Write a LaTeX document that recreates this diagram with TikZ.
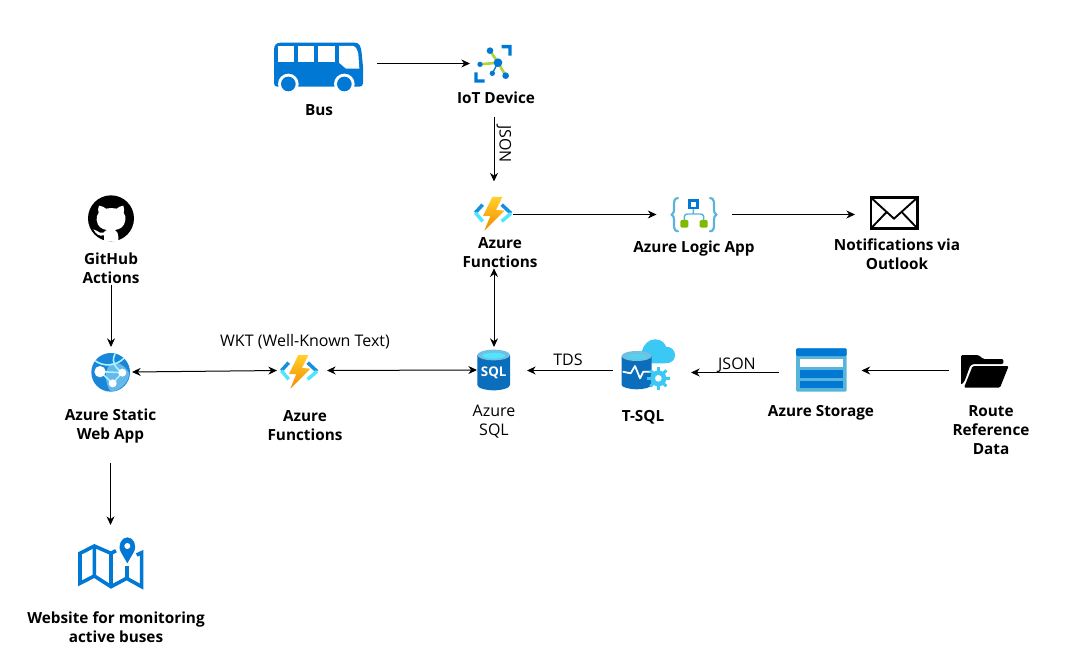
\documentclass[tikz,border=0pt]{standalone}
\usepackage{fontspec}
\setmainfont{Open Sans}
\usetikzlibrary{arrows.meta,calc}
\definecolor{azblue}{HTML}{0078D4}
\definecolor{azmid}{HTML}{1490DF}
\definecolor{azlight}{HTML}{50E6FF}
\definecolor{azsky}{HTML}{59B4D9}
\definecolor{azcloud}{HTML}{3CC8F4}
\definecolor{azgreen}{HTML}{7FBA00}
\definecolor{azlime}{HTML}{B4D334}
\definecolor{azsql}{HTML}{0A6EBD}
\definecolor{boltA}{HTML}{FFD02B}
\definecolor{boltB}{HTML}{F58A00}
\tikzset{
  zoomed/.style 2 args={shift={(#1,#2)},x=0.25pt,y=-0.25pt},
  iconbox/.style 2 args={inner sep=0pt,outer sep=0pt,minimum width=#1*0.75pt,minimum height=#2*0.75pt},
  boldlabel/.style={inner sep=0pt,align=center,font=\fontsize{11.5}{14.25}\selectfont\bfseries},
  pluslabel/.style={inner sep=0pt,align=center,font=\fontsize{12}{14.25}\selectfont},
  conn/.style={draw=black,line width=0.75pt,-{Stealth[length=6.5pt,width=6pt]}},
  biconn/.style={draw=black,line width=0.75pt,{Stealth[length=6.5pt,width=6pt]}-{Stealth[length=6.5pt,width=6pt]}},
  gapa/.style={shorten <=#1*0.75pt},
  gapb/.style={shorten >=#1*0.75pt}
}
\newcommand{\funcicon}[2]{%
  \begin{scope}[zoomed={#1}{#2}]
    \shade[top color=boltA,bottom color=boltB] (82,21)--(112,21)--(93,60)--(118,62)--(58,122)--(76,78)--(54,78)--cycle;
    \draw[azmid,line width=2.6pt,line join=miter] (53,44)--(31,68);
    \draw[azlight,line width=2.6pt] (31,68)--(53,94);
    \draw[azmid,line width=2.6pt] (110,44)--(138,70);
    \draw[azlight,line width=2.6pt] (138,70)--(110,94);
  \end{scope}}
\begin{document}
\begin{tikzpicture}[x=0.75pt,y=-0.75pt]
\useasboundingbox (0,0) rectangle (1066,666);
\fill[white] (0,0) rectangle (1066,666);

% ---- anchor boxes of the icons
\node[iconbox={89}{51}] (bus) at (318.5,67.5) {};
\node[iconbox={48}{40}] (iot) at (494,63.5) {};
\node[iconbox={38}{36}] (func1) at (494,214.5) {};
\node[iconbox={46}{36}] (logic) at (694.5,214.5) {};
\node[iconbox={48}{36}] (mail) at (894,214.5) {};
\node[iconbox={48}{46}] (github) at (111,218) {};
\node[iconbox={42}{50}] (swa) at (111,372) {};
\node[iconbox={42}{40}] (func2) at (300,370.5) {};
\node[iconbox={34}{46}] (sql) at (494,370) {};
\node[iconbox={50}{50}] (tsql) at (648,370.5) {};
\node[iconbox={52}{44}] (storage) at (821.5,372.5) {};
\node[iconbox={48}{40}] (route) at (985,370.5) {};
\node[iconbox={66}{54}] (map) at (110.5,563) {};

% ---- bus
\begin{scope}[zoomed={260}{30}]
  \fill[azblue] (42,60) .. controls (42,44) and (50,38) .. (62,38) -- (285,38)
     .. controls (298,38) and (303,48) .. (305,70) -- (309,110) -- (309,160)
     .. controls (309,166) and (305,170) .. (298,170) -- (52,170)
     .. controls (46,170) and (42,166) .. (42,160) -- cycle;
  \fill[white] (55,48) rectangle (102,97);
  \fill[white] (115,48) rectangle (163,97);
  \fill[white] (175,48) rectangle (225,97);
  \fill[white] (237,48) -- (280,48) .. controls (288,50) and (292,60) .. (295,72) -- (298,116) -- (258,116) -- (237,98) -- cycle;
  \fill[white] (85,162) circle[radius=31];
  \fill[white] (253,162) circle[radius=31];
  \fill[azblue] (85,162) circle[radius=22];
  \fill[azblue] (253,162) circle[radius=22];
\end{scope}

% ---- IoT device
\begin{scope}[zoomed={260}{30}]
  \draw[azlime,line width=2pt] (690,62)--(714,98) (660,103)--(714,98) (737,137)--(714,98);
  \draw[azblue,line width=1pt] (697,130)--(714,98);
  \fill[azblue] (725,45)--(755,45)--(755,77)--(745,77)--(745,55)--(725,55)--cycle;
  \fill[azblue] (643,127)--(653,127)--(653,148)--(674,148)--(674,158)--(643,158)--cycle;
  \fill[azblue] (714,98) circle[radius=13];
  \fill[azblue] (690,62) circle[radius=10];
  \fill[azblue] (660,103) circle[radius=8];
  \fill[azblue] (697,130) circle[radius=8];
  \fill[azblue] (737,137) circle[radius=10];
\end{scope}

% ---- functions
\funcicon{465}{190}
\funcicon{271}{348}

% ---- logic app
\begin{scope}[zoomed={460}{190}]
  \draw[azsky,line width=1.6pt,line cap=round] (654,24) .. controls (640,24) and (642,40) .. (642,55) .. controls (642,66) and (640,72) .. (635,74) .. controls (640,76) and (642,82) .. (642,93) .. controls (642,108) and (640,124) .. (654,124);
  \draw[azsky,line width=1.6pt,line cap=round] (750,24) .. controls (764,24) and (762,40) .. (762,55) .. controls (762,66) and (764,72) .. (769,74) .. controls (764,76) and (762,82) .. (762,93) .. controls (762,108) and (764,124) .. (750,124);
  \draw[azsky,line width=1.1pt] (700,55)--(700,72) (673,92)--(673,80) .. controls (673,74) and (678,72) .. (683,72) -- (720,72) .. controls (726,72) and (731,74) .. (731,80) -- (731,92);
  \draw[azblue,line width=2pt,fill=white] (689,32) rectangle (712,54);
  \fill[azgreen,rounded corners=1pt] (661,90) rectangle (685,113);
  \fill[azgreen,rounded corners=1pt] (719,90) rectangle (743,113);
\end{scope}

% ---- mail
\begin{scope}[zoomed={460}{190}]
  \draw[black,line width=1.9pt,line join=miter] (1233,23) rectangle (1372,115);
  \draw[black,line width=1.4pt] (1233,23)--(1302,86)--(1372,23);
  \draw[black,line width=1.4pt] (1233,115)--(1280,66) (1372,115)--(1325,66);
\end{scope}

% ---- github
\begin{scope}[zoomed={60}{190}]
  \fill[black] (153,85) circle[radius=69];
  \fill[white] (117,47) .. controls (125,47) and (133,52) .. (138,56) .. controls (148,54) and (160,54) .. (170,56)
     .. controls (176,52) and (182,47) .. (190,47) .. controls (193,55) and (193,62) .. (191,68)
     .. controls (196,75) and (197,82) .. (196,90) .. controls (194,110) and (180,118) .. (165,120)
     .. controls (172,124) and (175,132) .. (175,140) -- (175,152) .. controls (160,155) and (146,155) .. (132,152)
     -- (132,136) .. controls (116,140) and (108,132) .. (100,118) .. controls (108,118) and (112,126) .. (120,128) .. controls (125,129) and (130,128) .. (132,127)
     .. controls (133,124) and (136,122) .. (141,120) .. controls (125,118) and (112,110) .. (110,90)
     .. controls (109,82) and (111,75) .. (116,68) .. controls (113,62) and (114,54) .. (117,47) -- cycle;
\end{scope}

% ---- static web app
\begin{scope}[zoomed={60}{190}]
  \fill[azblue!90!white] (152,547) circle[radius=58];
  \fill[azmid!65!white] (150,522) .. controls (170,512) and (195,525) .. (208,550) .. controls (205,580) and (180,602) .. (152,605) .. controls (135,580) and (132,545) .. (150,522) -- cycle;
  \draw[azlight!50!white,line width=1.2pt] (105,512) .. controls (130,530) and (165,530) .. (192,505);
  \draw[azlight!50!white,line width=1.2pt] (165,492) .. controls (150,520) and (175,540) .. (187,548);
  \draw[azlight!50!white,line width=1.2pt] (120,545) -- (158,580) (120,545) -- (187,548) (158,580) -- (187,548);
  \fill[white] (120,545) circle[radius=17];
  \fill[white] (187,548) circle[radius=12];
  \fill[white] (158,580) circle[radius=12];
\end{scope}

% ---- SQL
\begin{scope}[zoomed={270}{335}]
  \fill[azsql] (622,60) -- (622,150) .. controls (622,160) and (650,166) .. (671,166) .. controls (692,166) and (720,160) .. (720,150) -- (720,60) -- cycle;
  \fill[azsky!85!white] (671,60) ellipse[x radius=49,y radius=16];
  \fill[azlight] (671,62) ellipse[x radius=34,y radius=9];
  \node[inner sep=0pt,text=white,font=\fontsize{10}{10}\selectfont\bfseries] (sqlword) at (671,114) {SQL};
\end{scope}

% ---- T-SQL
\begin{scope}[zoomed={610}{330}]
  \fill[azcloud] (95,65) .. controls (100,45) and (115,28) .. (135,28) .. controls (155,28) and (165,40) .. (168,50) .. controls (185,50) and (195,62) .. (195,75) .. controls (195,90) and (185,100) .. (165,100) -- (110,100) -- cycle;
  \fill[azsql] (35,78) -- (35,165) .. controls (35,172) and (60,178) .. (80,178) .. controls (100,178) and (125,172) .. (125,165) -- (125,78) -- cycle;
  \fill[azsky!85!white] (80,78) ellipse[x radius=45,y radius=15];
  \fill[azlight!60!azsky] (80,80) ellipse[x radius=31,y radius=8];
  \draw[white,line width=1.3pt,line join=round] (38,125)--(62,130)--(75,108)--(90,145)--(100,125)--(125,125);
  \foreach \a in {0,45,...,315} {\draw[azcloud,line width=2.2pt] (145,145) +(\a:14) -- +(\a:34);}
  \fill[azcloud] (145,145) circle[radius=24];
  \fill[white] (145,145) circle[radius=10];
\end{scope}

% ---- storage
\begin{scope}[zoomed={600}{330}]
  \fill[azsky,rounded corners=1pt] (588,55) rectangle (740,185);
  \fill[azblue,rounded corners=1pt] (588,55) rectangle (740,78);
  \fill[white] (600,88) rectangle (729,110);
  \fill[azblue] (600,120) rectangle (729,143);
  \fill[azblue] (600,153) rectangle (729,175);
\end{scope}

% ---- folder
\begin{scope}[zoomed={950}{345}]
  \fill[black,rounded corners=1pt] (33,30)--(85,30)--(100,42)--(160,42)--(160,57)--(68,57)--(60,63)--(44,108)--(33,120)--cycle;
  \fill[black,rounded corners=1pt] (68,63)--(176,63)--(150,128)--(42,128)--cycle;
\end{scope}

% ---- map
\begin{scope}[zoomed={60}{530}]
  \draw[azblue,line width=2.7pt,line join=miter] (153,70)--(103,48)--(60,70)--(60,160)--(103,138)--(153,170)--(200,145)--(245,170)--(245,68)--(230,75);
  \draw[azblue,line width=2.7pt] (103,48)--(103,138) (153,70)--(153,170) (201,108)--(201,145) (153,70)--(168,62);
  \fill[azblue] (202,100) -- (182,65) .. controls (172,45) and (185,22) .. (202,22) .. controls (220,22) and (232,45) .. (222,65) -- cycle;
  \fill[white] (202,48) circle[radius=9];
\end{scope}

% ---- labels
\node[boldlabel] (buslab) at (319,110) {Bus};
\node[boldlabel] (iotlab) at (496,98) {IoT Device};
\node[boldlabel] (func1lab) at (500,253) {Azure\\Functions};
\node[boldlabel] (logiclab) at (694,248.5) {Azure Logic App};
\node[boldlabel] (maillab) at (897,254) {Notifications via\\Outlook};
\node[boldlabel] (gitlab) at (111,268) {GitHub\\Actions};
\node[boldlabel] (swalab) at (110.5,426.5) {Azure Static\\Web App};
\node[boldlabel] (func2lab) at (305,426) {Azure\\Functions};
\node[pluslabel] (sqllab) at (494,421.5) {Azure\\SQL};
\node[boldlabel] (tsqllab) at (643,417) {T-SQL};
\node[boldlabel] (storagelab) at (821,412.5) {Azure Storage};
\node[boldlabel] (routelab) at (991,430) {Route\\Reference\\Data};
\node[boldlabel] (maplab) at (116,627) {Website for monitoring\\active buses};
\node[pluslabel] (wkt) at (305,342) {WKT (Well-Known Text)};
\node[pluslabel] (tds) at (568,360) {TDS};
\node[pluslabel] (json2) at (737,365) {JSON};
\node[pluslabel,rotate=-90] (json1) at (504,144) {JSON};

% ---- connectors
\draw[conn,gapa=14] (bus.east |- iot.west) -- (iot.west);
\draw[conn,gapa=13,gapb=15] (iotlab.south -| func1.north) -- (func1.north);
\draw[conn,gapb=15] (func1.east) -- (logic.west);
\draw[conn,gapa=14,gapb=15] (logic.east) -- (mail.west);
\draw[biconn] (sql.north |- func1lab.south) -- (sql.north);
\draw[conn,gapa=10,gapb=16] (tsql.west) -- (tsql.west -| sql.east);
\draw[conn,gapa=17,gapb=18] (storage.west) -- (storage.west -| tsql.east);
\draw[conn,gapa=12,gapb=14] (route.west) -- (route.west -| storage.east);
\draw[biconn,gapa=6] (func2.east) -- (sql.west);
\draw[biconn,gapb=2] (swa.east) -- (func2.west);
\draw[conn,gapa=1] (gitlab.south -| swa.north) -- (swa.north);
\draw[conn,gapa=19,gapb=11] (swalab.south -| map.north) -- (map.north);
\end{tikzpicture}
\end{document}
